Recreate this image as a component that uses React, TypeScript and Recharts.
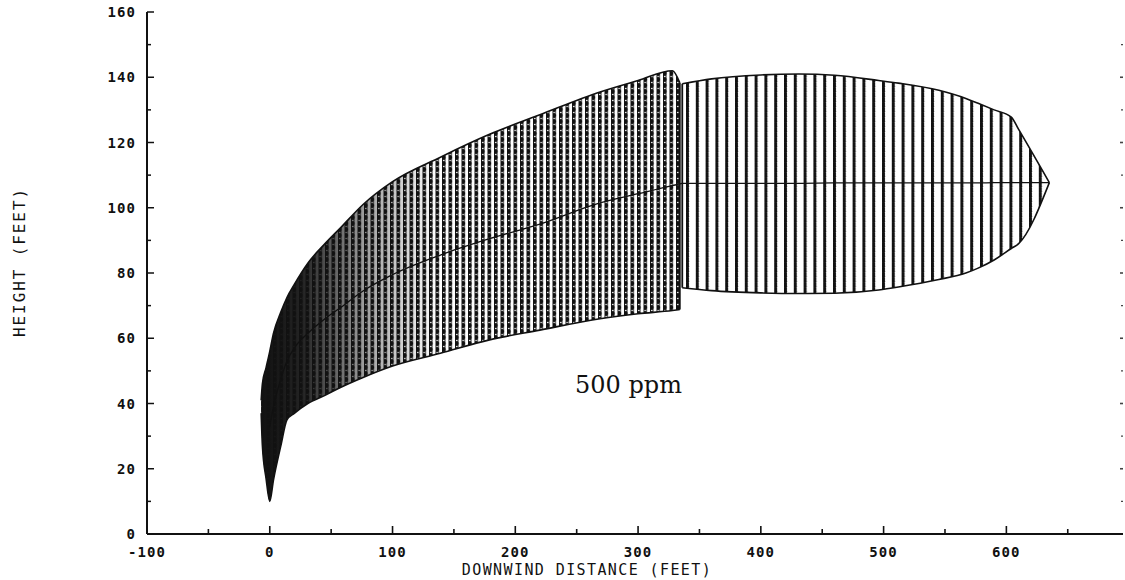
import React from 'react';
import { ComposedChart, Area, Line, XAxis, YAxis, ReferenceLine } from 'recharts';

// Segment 1 of the 500 ppm plume (near field)
const DIST_1 = [-7, -6, -3, 0, 3, 9, 14, 20, 31, 45, 58, 76, 100, 139, 179, 220, 269, 300, 328, 334];
const LOWER_1 = [37, 27, 17, 10, 16.5, 27, 35, 37, 40, 42.5, 45, 48, 51.5, 55.4, 59.5, 62.5, 66, 67.5, 68.5, 68.8];
const UPPER_1 = [41, 46, 51, 56, 61.5, 68, 72.5, 76.5, 83, 89, 94, 101, 108, 115.5, 122.5, 128.5, 135.5, 139, 142, 138.3];
const CENTER_1 = [null, null, null, 33, 39, 47.5, 53, 57, 61.5, 66, 69.5, 74.5, 79.5, 85.5, 90.5, 95, 101.5, 104.3, 106.8, 107.3];

// Segment 2 of the plume (far field)
const DIST_2 = [336, 360, 400, 431, 460, 496, 512, 545, 567, 577, 590, 604, 610, 635];
const LOWER_2 = [75.5, 74.6, 73.9, 73.7, 73.8, 74.8, 75.7, 78, 80, 81.5, 84, 87.5, 89, 107.7];
const UPPER_2 = [138, 139.5, 140.7, 141, 140.6, 139, 138.2, 136, 133.5, 132, 130, 127.8, 124, 107.7];
const CENTER_2 = [107.5, 107.5, 107.5, 107.5, 107.6, 107.6, 107.6, 107.6, 107.6, 107.6, 107.7, 107.7, 107.7, 107.7];

const X_LABELED = [-100, 0, 100, 200, 300, 400, 500, 600];
const X_TICKS = [-100, -50, 0, 50, 100, 150, 200, 250, 300, 350, 400, 450, 500, 550, 600, 650];
const Y_LABELED = [0, 20, 40, 60, 80, 100, 120, 140, 160];
const Y_TICKS = [0, 10, 20, 30, 40, 50, 60, 70, 80, 90, 100, 110, 120, 130, 140, 150, 160];
const R_TICKS = [10, 20, 30, 40, 50, 60, 70, 80, 90, 100, 110, 120, 130, 140, 150];

const X_DOMAIN: [number, number] = [-100, 695];
const Y_DOMAIN: [number, number] = [0, 160];

const rows: any[] = [
  ...DIST_1.map((x, i) => ({ x, lo1: LOWER_1[i], hi1: UPPER_1[i], c: CENTER_1[i] })),
  ...DIST_2.map((x, i) => ({ x, lo2: LOWER_2[i], hi2: UPPER_2[i], c: CENTER_2[i] })),
];

const edges = [
  { x: DIST_1[DIST_1.length - 1], lo: LOWER_1[LOWER_1.length - 1], hi: UPPER_1[UPPER_1.length - 1] },
  { x: DIST_2[0], lo: LOWER_2[0], hi: UPPER_2[0] },
];

const INK = '#111';
const TICK_FONT = "'DejaVu Sans Mono', monospace";

const BottomTick = (props: any) => {
  const { x, y, payload } = props;
  const v = payload.value;
  const major = X_LABELED.includes(v);
  return (
    <g>
      <line x1={x} x2={x} y1={y} y2={y - (major ? 8 : 5)} stroke={INK} strokeWidth={1.6} />
      {major && (
        <text x={x} y={y + 23} textAnchor="middle" fontFamily={TICK_FONT} fontWeight="bold" fontSize={14} letterSpacing={1.1} fill={INK}>
          {String(v)}
        </text>
      )}
    </g>
  );
};

const TopTick = (props: any) => {
  const { x, y } = props;
  return <line x1={x} x2={x} y1={y} y2={y + 5} stroke={INK} strokeWidth={1.4} />;
};

const LeftTick = (props: any) => {
  const { x, y, payload } = props;
  const v = payload.value;
  const major = Y_LABELED.includes(v);
  return (
    <g>
      <line x1={x} x2={x + (major ? 7 : 4)} y1={y} y2={y} stroke={INK} strokeWidth={1.5} />
      {major && (
        <text x={x - 11} y={y + 5} textAnchor="end" fontFamily={TICK_FONT} fontWeight="bold" fontSize={14} letterSpacing={1.1} fill={INK}>
          {String(v)}
        </text>
      )}
    </g>
  );
};

const RightTick = (props: any) => {
  const { x, y, payload } = props;
  const major = payload.value % 20 === 0;
  return <line x1={x} x2={x - (major ? 3 : 2)} y1={y} y2={y} stroke="#444" strokeWidth={major ? 1.6 : 1.1} />;
};

const XTitle = () => (
  <text x={587} y={575} textAnchor="middle" fontFamily={TICK_FONT} fontSize={15} letterSpacing={1.4} fill={INK}>
    DOWNWIND DISTANCE (FEET)
  </text>
);

const YTitle = () => (
  <text
    x={19}
    y={262}
    transform="rotate(-90 19 262)"
    textAnchor="middle"
    dominantBaseline="central"
    fontFamily={TICK_FONT}
    fontSize={16}
    letterSpacing={1.9}
    fill={INK}
  >
    HEIGHT (FEET)
  </text>
);

export default function App() {
  return (
    <div style={{ position: 'absolute', left: 0, top: 0, width: 1125, height: 580, background: '#fff', overflow: 'hidden' }}>
      <ComposedChart width={1125} height={580} data={rows} margin={{ top: 12, right: 0, bottom: 0, left: 0 }}>
        <defs>
          <pattern id="hatchDense" patternUnits="userSpaceOnUse" width="6.5" height="6">
            <rect x="0" y="0" width="3.4" height="6" fill={INK} />
            <circle cx="1.7" cy="1.5" r="2.1" fill={INK} />
            <circle cx="1.7" cy="4.5" r="0.8" fill="#fff" />
          </pattern>
          <pattern id="hatchOpen" patternUnits="userSpaceOnUse" width="9.8" height="5">
            <rect x="0.3" y="0" width="2.2" height="5" fill={INK} />
            <circle cx="1.4" cy="1.2" r="1.7" fill={INK} />
            <circle cx="1.4" cy="3.7" r="1.7" fill={INK} />
          </pattern>
          <linearGradient id="tipFade" x1="0" y1="0" x2="1" y2="0">
            <stop offset="0" stopColor={INK} stopOpacity={1} />
            <stop offset="0.1" stopColor={INK} stopOpacity={0.92} />
            <stop offset="0.25" stopColor={INK} stopOpacity={0.4} />
            <stop offset="0.42" stopColor={INK} stopOpacity={0} />
          </linearGradient>
        </defs>

        <XAxis
          dataKey="x"
          type="number"
          domain={X_DOMAIN}
          allowDataOverflow
          ticks={X_TICKS}
          interval={0}
          tickSize={0}
          tickMargin={0}
          tickLine={false}
          tick={<BottomTick />}
          height={46}
          axisLine={{ stroke: INK, strokeWidth: 2 }}
          label={<XTitle />}
        />
        <XAxis
          xAxisId="top"
          orientation="top"
          type="number"
          domain={X_DOMAIN}
          allowDataOverflow
          ticks={X_TICKS}
          interval={0}
          tickSize={0}
          tickMargin={0}
          tickLine={false}
          tick={<TopTick />}
          height={0}
          axisLine={{ stroke: INK, strokeWidth: 1.6 }}
        />
        <YAxis
          type="number"
          domain={Y_DOMAIN}
          allowDataOverflow
          ticks={Y_TICKS}
          interval={0}
          tickSize={0}
          tickMargin={0}
          tickLine={false}
          tick={<LeftTick />}
          width={147}
          axisLine={{ stroke: INK, strokeWidth: 2 }}
          label={<YTitle />}
        />
        <YAxis
          yAxisId="r"
          orientation="right"
          type="number"
          domain={Y_DOMAIN}
          allowDataOverflow
          ticks={R_TICKS}
          interval={0}
          tickSize={0}
          tickMargin={0}
          tickLine={false}
          tick={<RightTick />}
          width={2}
          axisLine={false}
        />

        <Area
          dataKey={(d: any) => (d.lo1 != null ? [d.lo1, d.hi1] : null)}
          type="monotone"
          fill="url(#hatchDense)"
          fillOpacity={1}
          stroke={INK}
          strokeWidth={1.6}
          isAnimationActive={false}
          activeDot={false}
        />
        <Area
          dataKey={(d: any) => (d.lo1 != null ? [d.lo1, d.hi1] : null)}
          type="monotone"
          fill="url(#tipFade)"
          fillOpacity={1}
          stroke="none"
          isAnimationActive={false}
          activeDot={false}
        />
        <Area
          dataKey={(d: any) => (d.lo2 != null ? [d.lo2, d.hi2] : null)}
          type="monotone"
          fill="url(#hatchOpen)"
          fillOpacity={1}
          stroke={INK}
          strokeWidth={1.6}
          isAnimationActive={false}
          activeDot={false}
        />
        <Line dataKey="c" type="monotone" stroke={INK} strokeWidth={1.3} dot={false} activeDot={false} isAnimationActive={false} />
        {edges.map((e, i) => (
          <ReferenceLine
            key={i}
            segment={[{ x: e.x, y: e.lo }, { x: e.x, y: e.hi }]}
            stroke={INK}
            strokeWidth={1.8}
            ifOverflow="visible"
          />
        ))}
      </ComposedChart>
      <svg width={1125} height={580} style={{ position: 'absolute', left: 0, top: 0, pointerEvents: 'none' }}>
        <text x={575} y={393} fontFamily="'DejaVu Serif', serif" fontSize={24} fill={INK}>
          500 ppm
        </text>
      </svg>
    </div>
  );
}
